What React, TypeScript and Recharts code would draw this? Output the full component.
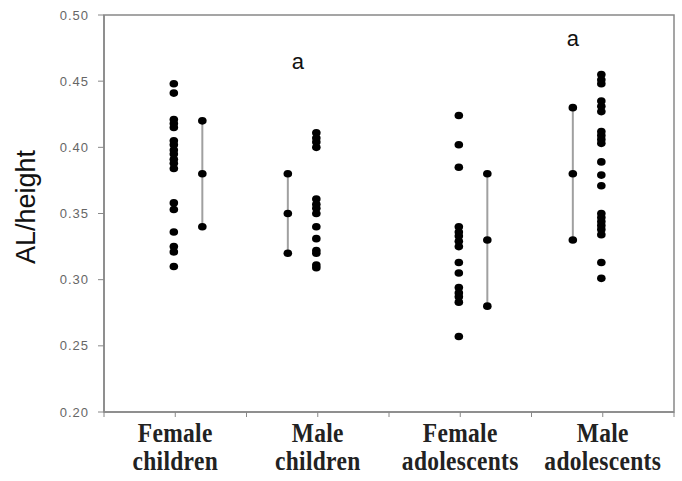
import React from "react";
import { ScatterChart, Scatter, XAxis, YAxis, ReferenceArea } from "recharts";

const categories = [
  ["Female", "children"],
  ["Male", "children"],
  ["Female", "adolescents"],
  ["Male", "adolescents"],
];

// individual observations per group
const femaleChildren = [0.448, 0.441, 0.421, 0.418, 0.415, 0.405, 0.402, 0.398, 0.395, 0.391, 0.388, 0.384, 0.358, 0.353, 0.336, 0.325, 0.321, 0.31];
const maleChildren = [0.411, 0.407, 0.404, 0.4, 0.361, 0.357, 0.354, 0.35, 0.34, 0.331, 0.322, 0.32, 0.311, 0.309];
const femaleAdolescents = [0.424, 0.402, 0.385, 0.34, 0.336, 0.333, 0.329, 0.325, 0.313, 0.305, 0.294, 0.29, 0.287, 0.283, 0.257];
const maleAdolescents = [0.455, 0.451, 0.448, 0.435, 0.431, 0.427, 0.412, 0.409, 0.406, 0.403, 0.389, 0.379, 0.371, 0.35, 0.347, 0.344, 0.341, 0.338, 0.334, 0.313, 0.301];

// mean +/- SD summaries: [upper, mean, lower]
const femaleChildrenSummary = [0.42, 0.38, 0.34];
const maleChildrenSummary = [0.38, 0.35, 0.32];
const femaleAdolescentsSummary = [0.38, 0.33, 0.28];
const maleAdolescentsSummary = [0.43, 0.38, 0.33];

const annotations = [
  { group: 1, text: "a", y: 0.4645 },
  { group: 3, text: "a", y: 0.4825 },
];

const yTicks = [0.2, 0.25, 0.3, 0.35, 0.4, 0.45, 0.5];
const xTicks = [0, 0.5, 1, 1.5, 2, 2.5, 3, 3.5, 4];

const DOT_OFFSET = 0.49;
// summary bar sits right of the dots for females, left for males
const barSide = [1, -1, 1, -1];

const groups = [femaleChildren, maleChildren, femaleAdolescents, maleAdolescents];
const summaries = [femaleChildrenSummary, maleChildrenSummary, femaleAdolescentsSummary, maleAdolescentsSummary];

const dotData = groups.map((vals, i) => vals.map((v) => ({ x: i + DOT_OFFSET, y: v })));
const barData = summaries.map((vals, i) => vals.map((v) => ({ x: i + DOT_OFFSET + 0.2 * barSide[i], y: v })));
const annotationData = annotations.map((a) => ({ x: a.group + 0.36 - (a.group === 3 ? 0.07 : 0), y: a.y, text: a.text }));

const Dot = (props: any) => {
  const { cx, cy } = props;
  if (cx == null || cy == null) return null;
  return <ellipse cx={cx} cy={cy} rx={4.3} ry={3.8} fill="#000" />;
};

const Letter = (props: any) => {
  const { cx, cy, payload } = props;
  return (
    <text x={cx} y={cy} textAnchor="middle" dominantBaseline="central" fontFamily="Liberation Sans, Arial" fontSize={22} fill="#111">
      {payload.text}
    </text>
  );
};

const CategoryTick = (props: any) => {
  const { x, payload } = props;
  const v = payload.value;
  if (Math.abs(v - Math.floor(v) - 0.5) > 0.01) return null;
  const lines = categories[Math.floor(v)];
  // text in the original is a little taller than wide, so stretch it vertically
  return (
    <g transform={`translate(${x} 412) scale(1 1.12)`}>
      <text x={0} y={0} textAnchor="middle" fontFamily="Liberation Serif, 'Times New Roman', serif" fontWeight="bold" fontSize={23.5} letterSpacing={0.3} fill="#222">
        <tspan x={0} y={26.8}>{lines[0]}</tspan>
        <tspan x={0} y={51.8}>{lines[1]}</tspan>
      </text>
    </g>
  );
};

const YLabel = () => (
  <text x={35} y={207} transform="rotate(-90 35 207)" textAnchor="middle" fontFamily="Liberation Sans, Arial" fontSize={27} fill="#111">
    AL/height
  </text>
);

export default function App() {
  return (
    <div style={{ position: "absolute", left: 0, top: 0, width: 682, height: 481, background: "#fff" }}>
      <ScatterChart width={682} height={481} margin={{ top: 15, right: 8, bottom: 0, left: 0 }}>
        <XAxis
          type="number"
          dataKey="x"
          domain={[0, 4]}
          ticks={xTicks}
          interval={0}
          height={69}
          tickSize={5}
          tickLine={{ stroke: "#888" }}
          axisLine={{ stroke: "#888", strokeWidth: 1.5 }}
          tick={<CategoryTick />}
        />
        <YAxis
          type="number"
          dataKey="y"
          domain={[0.2, 0.5]}
          ticks={yTicks}
          interval={0}
          width={104}
          tickSize={6}
          tickMargin={9}
          tickLine={{ stroke: "#888" }}
          axisLine={{ stroke: "#888", strokeWidth: 1.5 }}
          tickFormatter={(v: number) => v.toFixed(2)}
          tick={{ fontFamily: "Liberation Sans, Arial", fontSize: 13, fill: "#666", letterSpacing: 1 }}
          label={<YLabel />}
        />
        <ReferenceArea x1={0} x2={4} y1={0.2} y2={0.5} fill="none" stroke="#888" strokeWidth={1.5} />
        {barData.map((d, i) => (
          <Scatter
            key={"bar" + i}
            data={d}
            line={{ stroke: "#a0a0a0", strokeWidth: 2 }}
            lineType="joint"
            shape={<Dot />}
            isAnimationActive={false}
          />
        ))}
        {dotData.map((d, i) => (
          <Scatter key={"dots" + i} data={d} shape={<Dot />} isAnimationActive={false} />
        ))}
        <Scatter data={annotationData} shape={<Letter />} isAnimationActive={false} />
      </ScatterChart>
    </div>
  );
}
